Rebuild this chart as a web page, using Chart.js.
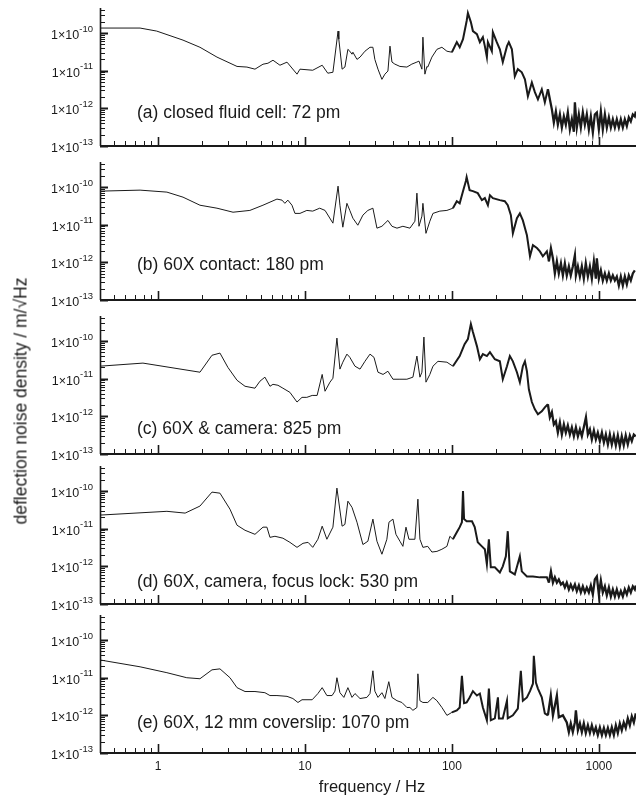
<!DOCTYPE html>
<html>
<head>
<meta charset="utf-8">
<script src="https://cdn.jsdelivr.net/npm/chart.js@4.4.0/dist/chart.umd.min.js"></script>
<style>
body { margin:0; background:#fff; }
#wrap { position:relative; width:636px; height:796px; overflow:hidden; font-family:'Liberation Sans', Arial, sans-serif; color:#1a1a1a; }
canvas { position:absolute; left:0; }
#ytitle { position:absolute; left:21px; top:401px; transform:translate(-50%,-50%) rotate(-90deg); white-space:nowrap; font-size:17.5px; }
#xtitle { position:absolute; left:372px; top:786px; transform:translate(-50%,-50%); white-space:nowrap; font-size:16.5px; }
</style>
</head>
<body>
<div id="wrap">
  <canvas id="pa" width="636" height="154" style="top:0px"></canvas>
  <canvas id="pb" width="636" height="154" style="top:154px"></canvas>
  <canvas id="pc" width="636" height="154" style="top:308px"></canvas>
  <canvas id="pd" width="636" height="154" style="top:458px"></canvas>
  <canvas id="pe" width="636" height="189" style="top:607px"></canvas>
  <div id="ytitle">deflection noise density / m/√Hz</div>
  <div id="xtitle">frequency / Hz</div>
</div>
<script>
// values: frequency (Hz) and noise density (m/sqrt(Hz))
const panelLabels = ['(a) closed fluid cell: 72 pm', '(b) 60X contact: 180 pm', '(c) 60X & camera: 825 pm',
  '(d) 60X, camera, focus lock: 530 pm', '(e) 60X, 12 mm coverslip: 1070 pm'];
const xTickVals = [1, 10, 100, 1000];
const xTickLabels = ['1', '10', '100', '1000'];
const yTickExps = [-13, -12, -11, -10];

const freqA = [0.40, 0.755, 0.98, 1.48, 1.93, 2.52, 3.45, 4.03, 4.57, 5.18, 5.6, 6.06, 6.76, 7.55, 8.83, 9.25, 11.3, 13.1, 14.3, 15.5,
  16.8, 17.0, 17.9, 18.7, 19.6, 20.2, 20.9, 21.2, 22.6, 23.7, 25.6, 27.7, 29.0, 29.9, 31.4, 33.4, 35.0, 36.7, 37.9, 39.1,
  40.9, 44.3, 49.4, 53.4, 57.8, 59.7, 62.5, 63.5, 65.5, 67.6, 68.5, 73.1, 79.1, 85.5, 92.5, 100, 108, 113, 119, 126,
  128.5, 134.6, 139, 148, 155, 162.5, 167.6, 173, 175.8, 187, 190, 202, 212, 222, 237, 244, 256, 268, 281, 299,
  314, 329, 350, 367, 385, 409, 429, 450,
  479, 494, 510, 526, 543, 560, 578, 596, 615, 635, 655, 676, 687, 708, 731, 754, 778, 803, 828, 855,
  882, 910, 939, 969, 1000, 1032, 1064, 1099, 1133, 1170, 1207, 1245, 1285, 1325, 1368, 1411, 1456, 1502, 1550, 1599,
  1650, 1703, 1757, 1785];
const densA = [1.36e-10, 1.36e-10, 1.13e-10, 6.5e-11, 4.2e-11, 2.3e-11, 1.3e-11, 1.25e-11, 1.1e-11, 1.49e-11, 1.58e-11, 1.9e-11, 1.4e-11, 1.69e-11, 8.1e-12, 1.1e-11, 1.03e-11, 1.4e-11, 8.6e-12, 9.1e-12,
  1.13e-10, 6.9e-11, 1.1e-11, 1.25e-11, 3.7e-11, 3.3e-11, 2.75e-11, 3.1e-11, 2.0e-11, 2.3e-11, 3.3e-11, 4.2e-11, 4.2e-11, 2.0e-11, 1.1e-11, 5.9e-12, 8.1e-12, 9.8e-12, 4.5e-11, 1.7e-11,
  1.5e-11, 1.3e-11, 1.25e-11, 1.5e-11, 1.7e-11, 1.8e-11, 1.1e-11, 7.8e-11, 8.1e-12, 1.3e-11, 1.25e-11, 2.3e-11, 3.7e-11, 4.2e-11, 3.3e-11, 3.1e-11, 5.75e-11, 4.2e-11, 6.9e-11, 2.1e-10,
  3.4e-10, 1.96e-10, 1.13e-10, 9.4e-11, 5.75e-11, 7.8e-11, 4.5e-11, 2.3e-11, 5.75e-11, 3.3e-11, 1.06e-10, 5.75e-11, 3.7e-11, 1.7e-11, 4.5e-11, 5.75e-11, 3.7e-11, 7.1e-12, 1.1e-11, 9.1e-12,
  5.9e-12, 2.1e-12, 4.9e-12, 2.7e-12, 1.74e-12, 3.2e-12, 1.45e-12, 3.2e-12,
  9.4e-13, 4.2e-13, 8.3e-13, 3.7e-13, 6.9e-13, 3.1e-13, 6.1e-13, 3.7e-13, 7.8e-13, 2.75e-13, 5.1e-13, 2.4e-13, 1.45e-12, 3.1e-13, 6.9e-13, 3.1e-13, 7.8e-13, 3.7e-13, 6.9e-13, 2.75e-13,
  6.1e-13, 2.3e-13, 6.9e-13, 7.8e-13, 2.75e-13, 8.3e-13, 2.75e-13, 6.9e-13, 3.1e-13, 5.75e-13, 3.1e-13, 5.1e-13, 3.1e-13, 5.1e-13, 3.1e-13, 5.1e-13, 3.1e-13, 5.1e-13, 3.4e-13, 5.75e-13,
  4.5e-13, 6.9e-13, 6.1e-13, 8.3e-13];

const freqB = [0.40, 0.755, 1.15, 1.48, 1.93, 2.52, 3.24, 4.22, 5.18, 6.45, 6.98, 7.3, 7.65, 8.16, 8.55, 9.25, 10.3, 11.3, 12.6, 13.7,
  15.5, 16.8, 17.3, 18.1, 19.3, 20.2, 21.2, 22.9, 24.8, 26.8, 29.0, 30.9, 33.4, 36.7, 39.1, 42.3, 46.4, 51.8, 56.0, 57.8,
  59.7, 62.5, 63.5, 66.6, 70.8, 74.3, 82.8, 92.5, 101.6, 108, 113, 119, 124.5, 126, 132, 139, 150, 160, 167.6, 175.8,
  181.5, 190, 212, 229, 240, 252, 260, 277, 290, 304, 324, 340, 356, 379, 397, 416, 443,
  457, 472, 487, 502, 518, 534, 552, 569, 587, 605, 625, 644, 665, 687, 698, 720, 743, 766, 790, 815,
  842, 869, 896, 925, 954, 969, 1000, 1032, 1064, 1099, 1133, 1170, 1207, 1245, 1285, 1325, 1368, 1411, 1456, 1502,
  1550, 1599, 1650, 1703, 1757];
const densB = [7.8e-11, 8.3e-11, 7.35e-11, 5.4e-11, 3.3e-11, 2.75e-11, 2.15e-11, 2.4e-11, 3.3e-11, 4.8e-11, 4.5e-11, 3.7e-11, 4.5e-11, 3.3e-11, 2.0e-11, 2.0e-11, 2.4e-11, 2.3e-11, 2.75e-11, 2.4e-11,
  1.1e-11, 1.06e-10, 3.3e-11, 8.6e-12, 3.7e-11, 2.4e-11, 1.49e-11, 9.7e-12, 1.8e-11, 2.4e-11, 2.75e-11, 8.1e-12, 9.1e-12, 1.3e-11, 9.1e-12, 8.1e-12, 9.1e-12, 8.1e-12, 1.24e-11, 6.9e-11,
  9.1e-12, 1.69e-11, 3.7e-11, 5.9e-12, 1.24e-11, 2.0e-11, 2.3e-11, 2.4e-11, 2.75e-11, 4.2e-11, 3.7e-11, 7.8e-11, 1.45e-10, 1.85e-10, 8.3e-11, 7.8e-11, 6.9e-11, 4.5e-11, 5.1e-11, 3.3e-11,
  6.1e-11, 5.1e-11, 4.5e-11, 4.2e-11, 3.3e-11, 1.8e-11, 5.9e-12, 1.49e-11, 2.0e-11, 1.3e-11, 5.25e-12, 1.45e-12, 2.85e-12, 2.4e-12, 1.96e-12, 1.45e-12, 1.96e-12,
  1.06e-12, 2.36e-12, 1.28e-12, 5.1e-13, 1.06e-12, 5.1e-13, 9.4e-13, 4.5e-13, 9.4e-13, 4.5e-13, 7.8e-13, 4.5e-13, 7.8e-13, 1.54e-12, 4.5e-13, 7.8e-13, 4.2e-13, 7.8e-13, 3.7e-13, 9.4e-13,
  4.2e-13, 7.8e-13, 3.7e-13, 1.06e-12, 3.7e-13, 1.28e-12, 3.7e-13, 6.1e-13, 3.3e-13, 5.1e-13, 3.3e-13, 5.1e-13, 3.3e-13, 4.5e-13, 3.3e-13, 4.2e-13, 2.44e-13, 4.2e-13, 2.44e-13, 4.2e-13,
  2.6e-13, 4.5e-13, 3.3e-13, 5.1e-13, 6.1e-13];

const freqC = [0.40, 0.79, 1.93, 2.33, 2.64, 2.99, 3.45, 3.91, 4.57, 4.94, 5.34, 5.78, 6.06, 6.55, 7.08, 7.9, 8.83, 9.55, 10.3, 11.2,
  12.1, 13.1, 13.7, 14.8, 15.5, 16.5, 17.3, 18.1, 19.3, 20.2, 21.9, 23.7, 25.6, 27.7, 29.5, 31.4, 34.0, 36.7, 39.7, 44.3,
  49.4, 54.3, 57.8, 60.6, 62.5, 64.5, 66.6, 70.8, 74.3, 80.4, 92.5, 101.6, 113, 122, 128.5, 134.6, 139, 148, 155, 162.5,
  173, 181.5, 196, 212, 222, 237, 248, 260, 277, 290, 304, 314, 324, 334, 350, 367, 385, 409, 429, 450,
  464, 479, 494, 510, 526, 543, 560, 578, 596, 615, 635, 655, 676, 698, 720, 743, 766, 790, 817, 842,
  869, 896, 925, 954, 984, 1016, 1049, 1082, 1116, 1152, 1188, 1225, 1265, 1305, 1346, 1389, 1432, 1477, 1524, 1574,
  1625, 1676, 1730, 1785];
const densC = [2.15e-11, 2.6e-11, 1.49e-11, 4.2e-11, 4.8e-11, 2.0e-11, 9.1e-12, 6.3e-12, 5.6e-12, 8.6e-12, 1.1e-11, 6.3e-12, 7.1e-12, 6.7e-12, 5.6e-12, 4.35e-12, 2.4e-12, 3.2e-12, 3.2e-12, 3.6e-12,
  3.6e-12, 1.3e-11, 4.65e-12, 8.1e-12, 1.03e-11, 1.2e-10, 1.8e-11, 2.75e-11, 4.5e-11, 3.7e-11, 2.15e-11, 1.8e-11, 2.9e-11, 4.5e-11, 3.7e-11, 1.49e-11, 1.3e-11, 1.58e-11, 9.7e-12, 9.7e-12,
  9.7e-12, 1.1e-11, 4.0e-11, 1.1e-11, 1.49e-11, 1.28e-10, 8.1e-12, 1.3e-11, 2.15e-11, 2.9e-11, 2.75e-11, 2.15e-11, 4.0e-11, 8.3e-11, 1.13e-10, 2.85e-10, 1.74e-10, 7.35e-11, 3.3e-11, 4.5e-11,
  4.0e-11, 5.1e-11, 3.3e-11, 2.9e-11, 9.7e-12, 2.15e-11, 4.0e-11, 2.9e-11, 1.49e-11, 8.1e-12, 2.15e-11, 2.9e-11, 1.58e-11, 5.25e-12, 2.4e-12, 1.54e-12, 1.13e-12, 1.36e-12, 1.74e-12, 2.1e-12,
  9.4e-13, 1.3e-12, 6.1e-13, 7.35e-13, 3.7e-13, 6.9e-13, 3.3e-13, 6.1e-13, 3.7e-13, 5.75e-13, 3.3e-13, 5.1e-13, 2.95e-13, 5.1e-13, 2.95e-13, 4.5e-13, 2.95e-13, 5.1e-13, 9.4e-13, 3.3e-13,
  4.5e-13, 2.44e-13, 4.2e-13, 2.44e-13, 3.7e-13, 2.2e-13, 3.7e-13, 2.03e-13, 3.3e-13, 1.8e-13, 3.3e-13, 1.8e-13, 3.1e-13, 1.7e-13, 3.1e-13, 1.58e-13, 2.95e-13, 1.7e-13, 3.1e-13, 1.8e-13,
  3.1e-13, 2.2e-13, 3.3e-13, 2.95e-13];

const freqD = [0.40, 1.15, 1.53, 1.93, 2.33, 2.64, 3.09, 3.45, 3.91, 4.57, 5.18, 5.51, 5.78, 6.25, 7.08, 7.9, 8.83, 9.7, 10.5, 11.3,
  12.25, 13.1, 14.1, 15.5, 16.5, 17.9, 18.7, 19.6, 20.9, 22.6, 24.8, 26.8, 29.0, 30.9, 33.4, 36.1, 37.3, 39.7, 41.6, 44.3,
  46.4, 48.7, 51.0, 56.0, 58.7, 60.6, 63.5, 68.5, 73.1, 79.1, 85.5, 92.5, 96.9, 101.6, 108, 113, 117, 119, 121, 126,
  137, 143, 150, 160, 167.6, 173, 178.5, 184, 196, 212, 222, 233, 240, 248, 268, 290, 299, 324, 356, 397,
  443, 457, 472, 487, 502, 518, 534, 552, 569, 587, 605, 625, 644, 665, 687, 708, 731, 754, 778, 803,
  828, 855, 882, 910, 939, 969, 1000, 1032, 1064, 1099, 1133, 1170, 1207, 1245, 1285, 1325, 1368, 1411, 1456, 1502,
  1550, 1599, 1650, 1703, 1757, 1785];
const densD = [2.3e-11, 2.9e-11, 2.6e-11, 4.0e-11, 9.4e-11, 8.8e-11, 3.3e-11, 1.24e-11, 9.1e-12, 7.1e-12, 1.1e-11, 1.1e-11, 5.9e-12, 6.3e-12, 5.6e-12, 4.35e-12, 3.2e-12, 4.1e-12, 4.35e-12, 3.2e-12,
  5.25e-12, 1.17e-11, 5.25e-12, 1.1e-11, 1.2e-10, 1.17e-11, 1.3e-11, 5.4e-11, 3.7e-11, 1.49e-11, 3.8e-12, 4.65e-12, 1.8e-11, 4.65e-12, 2.1e-12, 5.25e-12, 1.49e-11, 1.8e-11, 7.1e-12, 4.65e-12,
  3.4e-12, 1.1e-11, 5.25e-12, 5.25e-12, 6.1e-11, 5.25e-12, 3.2e-12, 3.4e-12, 2.4e-12, 2.5e-12, 2.85e-12, 3.4e-12, 6.3e-12, 5.25e-12, 8.1e-12, 1.1e-11, 1.49e-11, 1.0e-10, 1.8e-11, 1.58e-11,
  1.58e-11, 1.1e-11, 4.35e-12, 3.4e-12, 2.85e-12, 1.13e-12, 5.25e-12, 9.4e-13, 9.4e-13, 6.9e-13, 1.0e-12, 1.85e-12, 8.6e-12, 7.35e-13, 6.1e-13, 1.85e-12, 7.35e-13, 5.4e-13, 5.4e-13, 5.1e-13,
  5.1e-13, 3.7e-13, 7.35e-13, 3.7e-13, 5.1e-13, 3.7e-13, 4.5e-13, 3.3e-13, 3.7e-13, 2.75e-13, 3.7e-13, 2.44e-13, 3.3e-13, 2.44e-13, 3.3e-13, 2.2e-13, 3.1e-13, 2.03e-13, 2.95e-13, 2.03e-13,
  2.75e-13, 2.03e-13, 3.1e-13, 1.8e-13, 4.5e-13, 5.4e-13, 1.8e-13, 4.2e-13, 2.03e-13, 2.95e-13, 1.7e-13, 2.75e-13, 1.58e-13, 2.44e-13, 1.58e-13, 2.44e-13, 1.58e-13, 2.2e-13, 1.58e-13, 2.44e-13,
  1.8e-13, 2.75e-13, 2.03e-13, 2.95e-13, 2.44e-13, 3.1e-13];

const freqE = [0.40, 0.755, 1.15, 1.57, 1.93, 2.33, 2.64, 3.09, 3.45, 3.91, 4.57, 5.34, 5.78, 6.45, 7.55, 8.28, 8.96, 9.55, 11.2, 12.25,
  13.1, 14.1, 15.3, 16.0, 16.5, 17.3, 18.4, 19.6, 20.9, 21.9, 23.7, 26.4, 27.7, 29.0, 29.9, 31.4, 33.4, 35.0, 37.2, 39.1,
  42.3, 45.7, 49.4, 51.8, 54.3, 57.8, 58.7, 60.6, 63.5, 68.5, 74.3, 79.1, 85.5, 92.5, 100, 108, 113, 117, 121, 126,
  132, 139, 148, 155, 162.5, 173, 178.5, 184, 196, 205.7, 209, 222, 237, 240, 260, 281, 294.5, 304, 324, 340,
  356, 361, 373, 385, 409, 429, 450, 471, 487, 518, 534, 569,
  605, 625, 644, 665, 687, 698, 720, 743, 766, 790, 815, 842, 869, 896, 925, 954, 984, 1016, 1049, 1082,
  1116, 1152, 1188, 1225, 1265, 1305, 1346, 1389, 1432, 1477, 1524, 1574, 1625, 1676, 1730, 1785];
const densE = [2.98e-11, 1.95e-11, 1.36e-11, 1.0e-11, 9.4e-12, 1.62e-11, 1.72e-11, 1.0e-11, 5.45e-12, 4.3e-12, 4.3e-12, 4.0e-12, 3.36e-12, 3.36e-12, 3.2e-12, 2.8e-12, 2.2e-12, 2.6e-12, 2.6e-12, 3.8e-12,
  5.45e-12, 3.36e-12, 3.36e-12, 4.4e-12, 1.0e-11, 4.0e-12, 3.0e-12, 5.45e-12, 3.0e-12, 3.8e-12, 2.8e-12, 3.0e-12, 3.8e-12, 1.53e-11, 4.4e-12, 3.0e-12, 4.0e-12, 2.8e-12, 7.85e-12, 3.0e-12,
  2.45e-12, 2.2e-12, 1.62e-12, 1.62e-12, 1.36e-12, 1.62e-12, 1.27e-11, 2.45e-12, 2.2e-12, 2.2e-12, 3.0e-12, 2.45e-12, 1.62e-12, 1.0e-12, 1.2e-12, 1.36e-12, 1.62e-12, 1.13e-11, 2.1e-12, 2.2e-12,
  3.0e-12, 4.4e-12, 3.36e-12, 3.8e-12, 1.62e-12, 7.4e-13, 5.15e-12, 7.4e-13, 8.3e-13, 3.0e-12, 8.3e-13, 8.3e-13, 2.45e-12, 8.3e-13, 1.0e-12, 1.52e-12, 1.53e-11, 2.45e-12, 3.0e-12, 4.4e-12,
  6.95e-12, 3.8e-11, 7.4e-12, 5.15e-12, 3.0e-12, 1.13e-12, 1.0e-12, 3.36e-12, 1.0e-12, 3.36e-12, 8.9e-13, 1.0e-12,
  6.5e-13, 3.6e-13, 6.1e-13, 3.6e-13, 6.5e-13, 1.36e-12, 4.0e-13, 6.1e-13, 3.6e-13, 6.1e-13, 3.4e-13, 5.45e-13, 3.4e-13, 5.45e-13, 3.4e-13, 4.8e-13, 3.0e-13, 4.8e-13, 3.0e-13, 4.6e-13,
  3.0e-13, 4.6e-13, 3.0e-13, 4.8e-13, 3.0e-13, 5.45e-13, 3.4e-13, 6.1e-13, 4.0e-13, 6.5e-13, 4.6e-13, 8.3e-13, 5.45e-13, 9.4e-13, 6.5e-13, 1.13e-12];

// layout of the five stacked panels (page pixels)
const panels = [
  { id: 'pa', freq: freqA, dens: densA, canvasTop: 0,   labelY: 113.5 },
  { id: 'pb', freq: freqB, dens: densB, canvasTop: 154, labelY: 265.5 },
  { id: 'pc', freq: freqC, dens: densC, canvasTop: 308, labelY: 429 },
  { id: 'pd', freq: freqD, dens: densD, canvasTop: 458, labelY: 582 },
  { id: 'pe', freq: freqE, dens: densE, canvasTop: 607, labelY: 723, showX: true }
];

const FONT = "'Liberation Sans', Arial, sans-serif";
const INK = '#1a1a1a';

// the noisy part of each trace is drawn heavier so it reads as a band
function bandWidth(f) {
  if (f < 100) return 1;
  if (f < 450) return 2;
  return 2.3;
}

const panelAxes = {
  id: 'panelAxes',
  afterDraw(chart, args, opts) {
    const ctx = chart.ctx, a = chart.chartArea;
    const x = chart.scales.x, y = chart.scales.y;
    ctx.save();
    ctx.strokeStyle = INK;
    ctx.fillStyle = INK;
    function seg(x1, y1, x2, y2, w) {
      ctx.lineWidth = w;
      ctx.beginPath(); ctx.moveTo(x1, y1); ctx.lineTo(x2, y2); ctx.stroke();
    }
    const L = a.left + 0.5, B = Math.round(a.bottom);
    seg(L, a.top, L, B, 1.6);
    seg(a.left, B, a.right, B, 2);

    // y ticks (inward), majors at decades
    for (let e = -13; e <= -10; e++) {
      for (let m = 1; m <= 9; m++) {
        const v = m * Math.pow(10, e);
        if (v > y.max) break;
        const py = Math.round(y.getPixelForValue(v)) + 0.5;
        if (m === 1) seg(a.left, py, a.left + 8, py, 2);
        else seg(a.left, py, a.left + 5, py, 1);
      }
    }
    // x ticks (inward)
    for (let e = -1; e <= 3; e++) {
      for (let m = 1; m <= 9; m++) {
        const v = m * Math.pow(10, e);
        if (v < x.min || v > x.max) continue;
        const px = Math.round(x.getPixelForValue(v)) + 0.5;
        if (m === 1) seg(px, B, px, B - 9, 1.6);
        else seg(px, B, px, B - 5, 1);
      }
    }

    // y tick labels 1x10^n
    ctx.textBaseline = 'middle';
    ctx.textAlign = 'right';
    yTickExps.forEach(function (e) {
      const py = y.getPixelForValue(Math.pow(10, e));
      const sup = String(e);
      ctx.font = '9.5px ' + FONT;
      const sw = ctx.measureText(sup).width;
      ctx.fillText(sup, 93, py - 4);
      ctx.font = '12.5px ' + FONT;
      ctx.fillText('1\u00d710', 93 - sw, py + 2.5);
    });

    if (opts.showX) {
      ctx.textAlign = 'center';
      ctx.font = '12px ' + FONT;
      xTickVals.forEach(function (v, i) {
        ctx.fillText(xTickLabels[i], x.getPixelForValue(v), B + 14);
      });
    }

    ctx.textAlign = 'left';
    ctx.font = '17.5px ' + FONT;
    ctx.fillText(opts.label, 137, opts.labelY);
    ctx.restore();
  }
};

panels.forEach(function (p, i) {
  const pts = p.freq.map(function (f, k) { return { x: f, y: p.dens[k] }; });
  const h = document.getElementById(p.id).height;
  new Chart(document.getElementById(p.id).getContext('2d'), {
    type: 'line',
    data: {
      datasets: [{
        data: pts,
        borderColor: INK,
        borderWidth: 1,
        pointRadius: 0,
        tension: 0,
        segment: { borderWidth: function (c) { return bandWidth(c.p0.parsed.x); } }
      }]
    },
    options: {
      responsive: false,
      animation: false,
      layout: { padding: { left: 100, right: 0, top: 8, bottom: h - 146 } },
      scales: {
        x: { type: 'logarithmic', min: 0.403, max: 1790, display: false },
        y: { type: 'logarithmic', min: 1e-13, max: 4.64e-10, display: false }
      },
      plugins: {
        legend: { display: false },
        tooltip: { enabled: false },
        panelAxes: { label: panelLabels[i], labelY: p.labelY - p.canvasTop, showX: !!p.showX }
      }
    },
    plugins: [panelAxes]
  });
});
</script>
</body>
</html>
